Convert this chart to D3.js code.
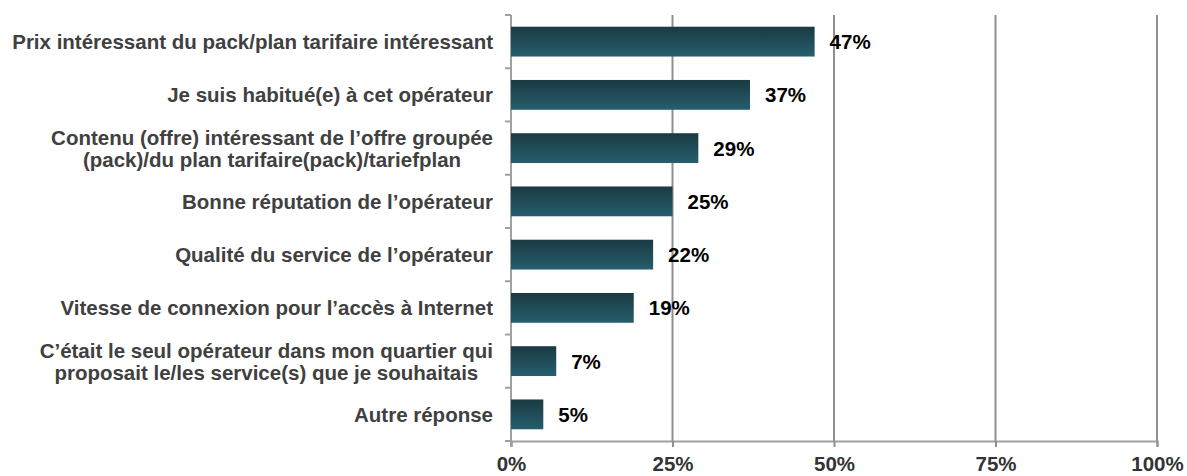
<!DOCTYPE html>
<html>
<head>
<meta charset="utf-8">
<script src="https://cdn.jsdelivr.net/npm/d3@7"></script>
<style>
  body { margin: 0; background: #fff; }
  text { font-family: "Liberation Sans", Arial, sans-serif; font-weight: bold; }
</style>
</head>
<body>
<div id="chart"></div>
<script>
// Data
var categories = [
    ["Prix intéressant du pack/plan tarifaire intéressant"],
    ["Je suis habitué(e) à cet opérateur"],
    ["Contenu (offre) intéressant de l’offre groupée", "(pack)/du plan tarifaire(pack)/tariefplan"],
    ["Bonne réputation de l’opérateur"],
    ["Qualité du service de l’opérateur"],
    ["Vitesse de connexion pour l’accès à Internet"],
    ["C’était le seul opérateur dans mon quartier qui", "proposait le/les service(s) que je souhaitais"],
    ["Autre réponse"]
];
var values = [47, 37, 29, 25, 22, 19, 7, 5];
var xTicks = [0, 25, 50, 75, 100];

var svgWidth = 1187;
var svgHeight = 476;

var margin = { top: 15, right: 30, bottom: 35, left: 511 };
var width = 1157 - margin.left;
var height = 441 - margin.top;

var svg = d3.select("#chart")
    .append("svg")
    .attr("width", svgWidth)
    .attr("height", svgHeight);

// bar gradient
var grad = svg.append("defs").append("linearGradient")
    .attr("id", "barGrad")
    .attr("x1", 0).attr("y1", 0).attr("x2", 0).attr("y2", 1);
grad.append("stop").attr("offset", "0%").attr("stop-color", "#1b3942");
grad.append("stop").attr("offset", "100%").attr("stop-color", "#255f6d");

var chartGroup = svg.append("g")
    .attr("transform", `translate(${margin.left}, ${margin.top})`);

var idx = d3.range(categories.length);

var xScale = d3.scaleLinear().domain([0, 100]).range([0, width]);
var yScale = d3.scaleBand()
    .domain(idx)
    .range([0, height])
    .paddingInner(0.44)
    .paddingOuter(0.22);

// gridlines
chartGroup.selectAll(".grid")
    .data(xTicks.slice(1))
    .enter()
    .append("line")
    .attr("x1", d => xScale(d))
    .attr("x2", d => xScale(d))
    .attr("y1", 0)
    .attr("y2", height)
    .attr("stroke", "#8f8f8f")
    .attr("stroke-width", 2);

// x axis
var bottomAxis = d3.axisBottom(xScale)
    .tickValues(xTicks)
    .tickSize(6)
    .tickPadding(9)
    .tickFormat(d => d + "%");

var xAxis = chartGroup.append("g")
    .attr("transform", `translate(0, ${height})`)
    .call(bottomAxis);
xAxis.select(".domain").attr("stroke", "#a0a0a0").attr("stroke-width", 2);
xAxis.selectAll(".tick line").attr("stroke", "#8f8f8f").attr("stroke-width", 2);
xAxis.selectAll(".tick text")
    .attr("fill", "#333")
    .style("font-size", "20.5px")
    .style("font-family", "'Liberation Sans', Arial, sans-serif")
    .style("font-weight", "bold");

// y axis: ticks at band boundaries
var step = yScale.step();
var boundaries = d3.range(categories.length + 1).map(i => i * step);
chartGroup.append("line")
    .attr("x1", 0).attr("x2", 0)
    .attr("y1", 0).attr("y2", height + 6)
    .attr("stroke", "#a0a0a0")
    .attr("stroke-width", 2);
chartGroup.selectAll(".ytick")
    .data(boundaries)
    .enter()
    .append("line")
    .attr("x1", -6).attr("x2", 0)
    .attr("y1", d => d).attr("y2", d => d)
    .attr("stroke", "#a0a0a0")
    .attr("stroke-width", 2);

// bars
chartGroup.selectAll("rect.bar")
    .data(values)
    .enter()
    .append("rect")
    .attr("class", "bar")
    .attr("x", 0)
    .attr("y", (d, i) => yScale(i))
    .attr("width", d => xScale(d))
    .attr("height", yScale.bandwidth())
    .attr("fill", "url(#barGrad)");

// value labels
chartGroup.selectAll("text.val")
    .data(values)
    .enter()
    .append("text")
    .attr("class", "val")
    .attr("x", d => xScale(d) + 15)
    .attr("y", (d, i) => yScale(i) + yScale.bandwidth() / 2)
    .attr("dy", "0.36em")
    .attr("fill", "#000")
    .style("font-size", "20.5px")
    .text(d => d + "%");

// category labels (multi-line blocks are centred, block right-aligned)
var lineH = 22;
categories.forEach(function(lines, i) {
    var cy = yScale(i) + yScale.bandwidth() / 2;
    var g = chartGroup.append("g");
    var texts = lines.map(function(l, j) {
        return g.append("text")
            .attr("y", cy + (j - (lines.length - 1) / 2) * lineH)
            .attr("dy", "0.36em")
            .attr("fill", "#404040")
            .style("font-size", "20.5px")
            .text(l);
    });
    var maxW = d3.max(texts, t => t.node().getComputedTextLength());
    texts.forEach(function(t) {
        t.attr("x", -18 - maxW / 2).attr("text-anchor", "middle");
    });
});
</script>
</body>
</html>
